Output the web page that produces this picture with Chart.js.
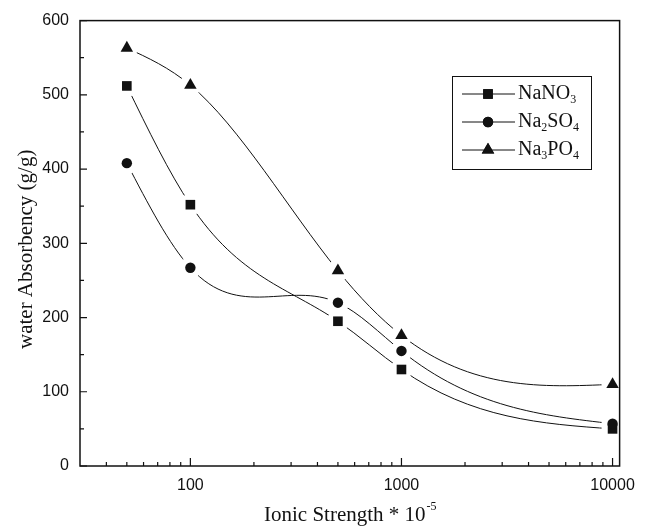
<!DOCTYPE html>
<html>
<head>
<meta charset="utf-8">
<script src="https://cdn.jsdelivr.net/npm/chart.js@4.4.1/dist/chart.umd.min.js"></script>
<style>
  html, body { margin: 0; padding: 0; background: #fff; }
</style>
</head>
<body>
<canvas id="chart" width="645" height="528"></canvas>
<script>
/* data */
const ionicStrength = [50, 100, 500, 1000, 10000];
const nano3  = [512, 352, 195, 130, 50];
const na2so4 = [408, 267, 220, 155, 57];
const na3po4 = [563, 513, 263, 176, 110];

const seriesLabels = ['NaNO_3', 'Na_2SO_4', 'Na_3PO_4'];   // '_' = next char is a subscript
const seriesMarkers = ['rect', 'circle', 'triangle'];

const xMajorTicks = [100, 1000, 10000];
const xMinorTicks = [40, 50, 60, 70, 80, 90, 200, 300, 400, 500, 600, 700, 800, 900,
                     2000, 3000, 4000, 5000, 6000, 7000, 8000, 9000];
const yMajorTicks = [0, 100, 200, 300, 400, 500, 600];
const yMinorTicks = [50, 150, 250, 350, 450, 550];

const INK = '#111';
const SANS = '"Liberation Sans", Arial, sans-serif';
const SERIF = '"Liberation Serif", "Times New Roman", serif';

const markerRadius = { rect: 6.8, circle: 5.2, triangle: 7.2 };

function makeDataset(label, values, marker) {
  return {
    label,
    data: ionicStrength.map((x, i) => ({ x, y: values[i] })),
    borderColor: INK, borderWidth: 1,
    backgroundColor: INK,
    pointStyle: marker, pointRadius: markerRadius[marker],
    pointBackgroundColor: INK, pointBorderColor: INK, pointBorderWidth: 0,
    tension: 0.4, fill: false,
  };
}

/* natural cubic spline through the (pixel) points, written into the
   bezier control points chart.js uses to stroke the line */
function naturalSplineControls(pts) {
  const n = pts.length;
  if (n < 3) return;
  const h = [], s = [];
  for (let i = 0; i < n - 1; i++) {
    h.push(pts[i + 1].x - pts[i].x);
    s.push((pts[i + 1].y - pts[i].y) / h[i]);
  }
  // tridiagonal solve for second derivatives M (M0 = Mn-1 = 0)
  const M = new Array(n).fill(0);
  const a = [], b = [], c = [], d = [];
  for (let i = 1; i < n - 1; i++) {
    a.push(h[i - 1]); b.push(2 * (h[i - 1] + h[i])); c.push(h[i]); d.push(6 * (s[i] - s[i - 1]));
  }
  const m = b.length;
  for (let i = 1; i < m; i++) {
    const w = a[i] / b[i - 1];
    b[i] -= w * c[i - 1];
    d[i] -= w * d[i - 1];
  }
  const sol = new Array(m);
  sol[m - 1] = d[m - 1] / b[m - 1];
  for (let i = m - 2; i >= 0; i--) sol[i] = (d[i] - c[i] * sol[i + 1]) / b[i];
  for (let i = 0; i < m; i++) M[i + 1] = sol[i];

  for (let i = 0; i < n - 1; i++) {
    const p0 = pts[i], p1 = pts[i + 1];
    const d0 = s[i] - h[i] * (2 * M[i] + M[i + 1]) / 6;
    const d1 = s[i] + h[i] * (M[i] + 2 * M[i + 1]) / 6;
    p0.cp2x = p0.x + h[i] / 3; p0.cp2y = p0.y + d0 * h[i] / 3;
    p1.cp1x = p1.x - h[i] / 3; p1.cp1y = p1.y - d1 * h[i] / 3;
  }
}

/* draw a label where '_' marks a subscript char */
function drawSubText(ctx, text, x, y, size) {
  let cx = x;
  for (let i = 0; i < text.length; i++) {
    if (text[i] === '_') {
      i++;
      ctx.font = `${Math.round(size * 0.62)}px ${SERIF}`;
      ctx.fillText(text[i], cx, y + size * 0.3);
      cx += ctx.measureText(text[i]).width;
    } else {
      ctx.font = `${size}px ${SERIF}`;
      ctx.fillText(text[i], cx, y);
      cx += ctx.measureText(text[i]).width;
    }
  }
}

const decorPlugin = {
  id: 'decor',
  beforeDatasetDraw(chart, args) {
    const meta = args.meta;
    const line = meta.dataset;
    if (!line) return;
    line.updateControlPoints(chart.chartArea, meta.iScale.axis);
    naturalSplineControls(line.points);
    line._path = undefined;
  },
  afterDatasetsDraw(chart) {
    // white halos so lines stop short of the markers, then redraw the markers
    const ctx = chart.ctx;
    ctx.save();
    ctx.fillStyle = '#fff';
    chart.data.datasets.forEach((ds, i) => {
      chart.getDatasetMeta(i).data.forEach(pt => {
        ctx.beginPath(); ctx.arc(pt.x, pt.y, 11, 0, Math.PI * 2); ctx.fill();
      });
    });
    ctx.restore();
    chart.data.datasets.forEach((ds, i) => {
      chart.getDatasetMeta(i).data.forEach(pt => pt.draw(ctx, chart.chartArea));
    });
  },
  afterDraw(chart) {
    const { ctx, chartArea: a, scales: { x, y } } = chart;
    ctx.save();
    ctx.strokeStyle = INK;
    ctx.lineWidth = 1.5;
    ctx.strokeRect(a.left, a.top, a.right - a.left, a.bottom - a.top);

    // inward ticks
    ctx.lineWidth = 1.2;
    ctx.beginPath();
    xMajorTicks.forEach(v => { const px = x.getPixelForValue(v); ctx.moveTo(px, a.bottom); ctx.lineTo(px, a.bottom - 8); });
    xMinorTicks.forEach(v => { const px = x.getPixelForValue(v); ctx.moveTo(px, a.bottom); ctx.lineTo(px, a.bottom - 4); });
    yMajorTicks.forEach(v => { const py = y.getPixelForValue(v); ctx.moveTo(a.left, py); ctx.lineTo(a.left + 7, py); });
    yMinorTicks.forEach(v => { const py = y.getPixelForValue(v); ctx.moveTo(a.left, py); ctx.lineTo(a.left + 4, py); });
    ctx.stroke();

    // axis titles
    ctx.fillStyle = INK;
    ctx.textBaseline = 'middle';
    ctx.textAlign = 'center';
    ctx.font = `21px ${SERIF}`;
    ctx.save();
    ctx.translate(26, (a.top + a.bottom) / 2 + 6);
    ctx.rotate(-Math.PI / 2);
    ctx.fillText('water Absorbency (g/g)', 0, 0);
    ctx.restore();

    const main = 'Ionic Strength * 10';
    ctx.textBaseline = 'alphabetic';
    ctx.textAlign = 'left';
    ctx.font = `21px ${SERIF}`;
    const wMain = ctx.measureText(main).width;
    ctx.font = `12px ${SERIF}`;
    const wSup = ctx.measureText('-5').width;
    const x0 = (a.left + a.right) / 2 - (wMain + wSup) / 2;
    ctx.font = `21px ${SERIF}`;
    ctx.fillText(main, x0, 521);
    ctx.font = `12px ${SERIF}`;
    ctx.fillText('-5', x0 + wMain + 1, 510);

    // legend
    ctx.lineWidth = 1;
    ctx.strokeRect(452.5, 76.5, 139, 93);
    const rows = [94, 122, 150];
    chart.data.datasets.forEach((ds, i) => {
      const ry = rows[i];
      ctx.beginPath(); ctx.moveTo(462, ry); ctx.lineTo(515, ry); ctx.stroke();
      Chart.helpers.drawPoint(ctx, { pointStyle: seriesMarkers[i], radius: markerRadius[seriesMarkers[i]], borderWidth: 0 }, 488, ry);
      ctx.fill();
      ctx.textBaseline = 'middle';
      drawSubText(ctx, seriesLabels[i], 518, ry, 20);
    });
    ctx.restore();
  }
};

new Chart(document.getElementById('chart'), {
  type: 'line',
  data: {
    datasets: [
      makeDataset('NaNO3', nano3, 'rect'),
      makeDataset('Na2SO4', na2so4, 'circle'),
      makeDataset('Na3PO4', na3po4, 'triangle'),
    ]
  },
  options: {
    responsive: false,
    animation: false,
    layout: { padding: { top: 17, right: 15, left: 0, bottom: 0 } },
    plugins: { legend: { display: false }, tooltip: { enabled: false } },
    scales: {
      x: {
        type: 'logarithmic', min: 30, max: 10800,
        grid: { display: false, drawTicks: false },
        border: { display: false },
        afterBuildTicks: s => { s.ticks = xMajorTicks.map(v => ({ value: v })); },
        afterFit: s => { s.height = 62; },
        ticks: { color: INK, font: { family: SANS, size: 16 }, padding: 10, maxRotation: 0,
                 callback: v => String(v) },
      },
      y: {
        min: 0, max: 600,
        grid: { display: false, drawTicks: false },
        border: { display: false },
        afterBuildTicks: s => { s.ticks = yMajorTicks.map(v => ({ value: v })); },
        afterFit: s => { s.width = 80; },
        ticks: { color: INK, font: { family: SANS, size: 16 }, padding: 11 },
      }
    }
  },
  plugins: [decorPlugin]
});
</script>
</body>
</html>
